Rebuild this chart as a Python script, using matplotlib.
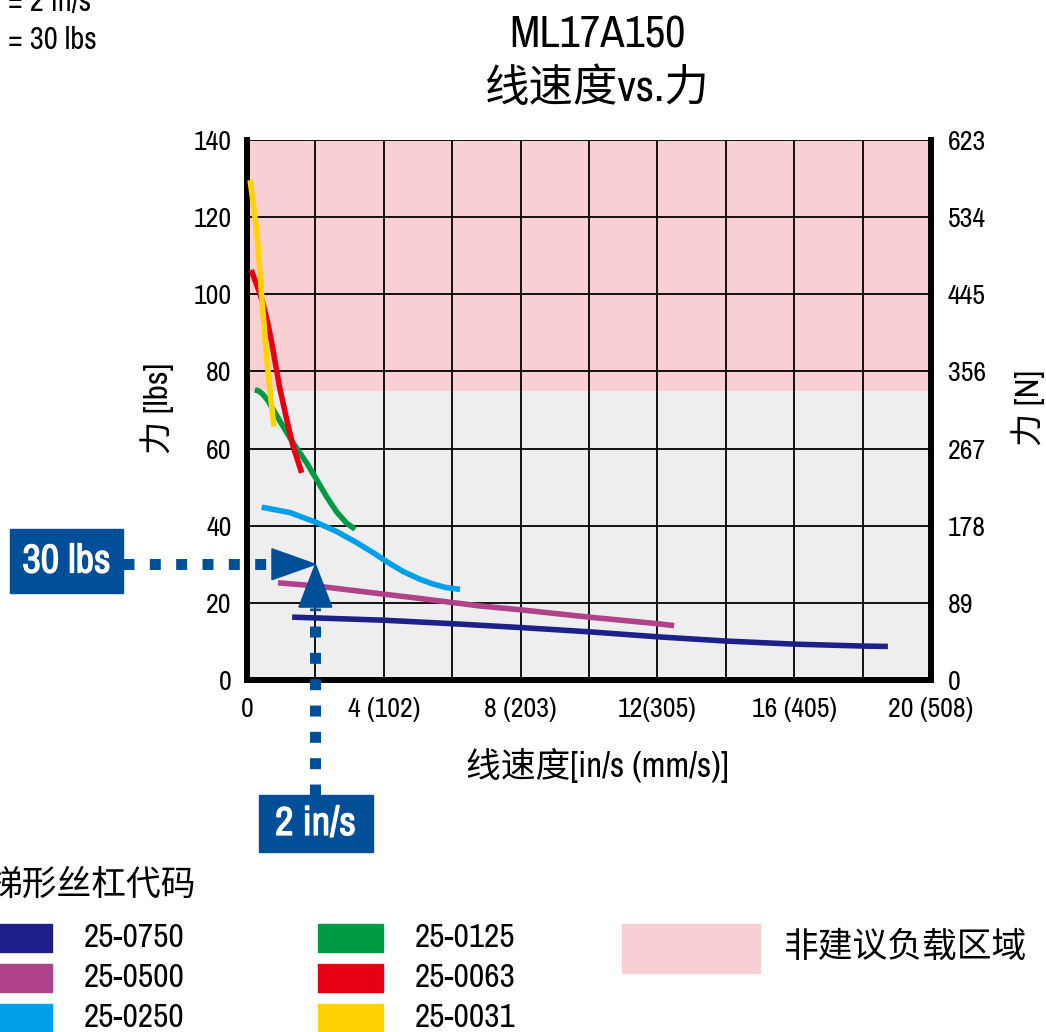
import matplotlib
matplotlib.use('Agg')
import matplotlib.pyplot as plt
import matplotlib.patheffects as pe
from matplotlib import font_manager
from matplotlib.patches import Rectangle, Polygon

# Speed [in/s] and force [lbs], one pair per lead screw
speed_0750 = [1.32, 2, 4, 6, 8, 10, 12, 14, 16, 18, 18.74]
force_0750 = [16.3, 16.1, 15.5, 14.6, 13.6, 12.5, 11.2, 10.1, 9.3, 8.8, 8.7]
speed_0500 = [0.91, 2, 3.68, 5, 6.81, 8, 10, 12, 12.49]
force_0500 = [25.2, 24.4, 22.6, 21.2, 19.2, 18.2, 16.3, 14.6, 14.1]
speed_0250 = [0.43, 1.26, 2.04, 2.62, 3.21, 3.69, 4.08, 4.57, 5.06, 5.4, 5.8, 6.23]
force_0250 = [44.8, 43.4, 40.8, 38.5, 35.6, 33.0, 30.7, 28.1, 26.1, 25.0, 24.0, 23.5]
speed_0125 = [0.23, 0.33, 0.45, 0.6, 0.77, 1.06, 1.35, 1.75, 2.04, 2.33, 2.62, 2.92, 3.16]
force_0125 = [75.2, 75.0, 74.2, 72.6, 70.0, 65.7, 61.4, 56.2, 51.9, 47.5, 43.6, 40.6, 39.1]
speed_0063 = [0.12, 0.23, 0.35, 0.47, 0.61, 0.72, 0.84, 0.96, 1.16, 1.35, 1.6]
force_0063 = [106.3, 103.7, 100.9, 97.5, 92.4, 87.6, 81.6, 75.6, 67.6, 60.5, 53.7]
speed_0031 = [0.09, 0.18, 0.28, 0.36, 0.43, 0.51, 0.59, 0.69, 0.79]
force_0031 = [129.6, 123.6, 116.7, 108.0, 99.4, 90.7, 82.1, 73.4, 65.7]

codes = ['25-0750', '25-0500', '25-0250', '25-0125', '25-0063', '25-0031']
speeds = [speed_0750, speed_0500, speed_0250, speed_0125, speed_0063, speed_0031]
forces = [force_0750, force_0500, force_0250, force_0125, force_0063, force_0031]
colors = ['#1d2088', '#b0418b', '#00a0e9', '#009944', '#e60012', '#ffd200']

xtick_values = [0, 4, 8, 12, 16, 20]
xtick_labels = ['0', '4 (102)', '8 (203)', '12(305)', '16 (405)', '20 (508)']
ytick_values = [0, 20, 40, 60, 80, 100, 120, 140]
ytick_newton = ['0', '89', '178', '267', '356', '445', '534', '623']

not_recommended_from = 75
example_speed = 2
example_force = 30

blue = '#004f98'
pink = '#f8cfd2'
grey = '#eeeeee'

# Pick a narrow latin face if one is installed, CJK falls back to Noto
latin = 'Roboto'
stretch = 'normal'
fonts = font_manager.fontManager.ttflist
narrow = [f for f in fonts if 'Narrow' in f.name or 'Condensed' in f.name]
if narrow:
   latin = narrow[0].name
else:
   for f in fonts:
      if f.name == 'DejaVu Sans' and f.stretch in ('condensed', 'semi-condensed'):
         latin = 'DejaVu Sans'
         stretch = 'condensed'
         break
heavy = ('600', '700', '800', '900', 'bold', 'semibold', 'demibold', 'heavy', 'black')
has_bold = any(f.name == latin and str(f.weight) in heavy for f in fonts)

plt.rcParams['font.family'] = [latin, 'Noto Sans CJK SC', 'DejaVu Sans']
plt.rcParams['font.stretch'] = stretch

W, H = 1046, 1032
fig = plt.figure(figsize=(W / 100, H / 100), dpi=100)
ax = fig.add_axes([247 / W, 1 - 680 / H, 684 / W, 540 / H])

ax.set_xlim(0, 20)
ax.set_ylim(0, 140)
ax.set_facecolor(grey)
ax.axhspan(not_recommended_from, 140, color=pink, lw=0, zorder=0)

# grid every 2 in/s and 20 lbs
for gx in range(2, 20, 2):
   ax.axvline(gx, color='k', lw=1.3, zorder=1)
for gy in ytick_values[1:]:
   ax.axhline(gy, color='k', lw=1.3, zorder=1)

for spine in ['left', 'bottom', 'right']:
   ax.spines[spine].set_linewidth(4.3)
ax.spines['top'].set_visible(False)

ax.set_xticks(xtick_values)
ax.set_xticklabels(xtick_labels)
ax.set_yticks(ytick_values)
ax.tick_params(length=0, labelsize=20, pad=11)
ax.tick_params(axis='x', pad=12)

ax2 = ax.twinx()
ax2.set_ylim(0, 140)
ax2.set_yticks(ytick_values)
ax2.set_yticklabels(ytick_newton)
ax2.tick_params(length=0, labelsize=20, pad=12)
for spine in ax2.spines.values():
   spine.set_visible(False)

for i in range(len(codes)):
   ax.plot(speeds[i], forces[i], color=colors[i], lw=4, solid_capstyle='butt',
           solid_joinstyle='round', zorder=3)

# example lookup: 2 in/s -> 30 lbs
ax.plot([-3.63, 0.62], [example_force, example_force], color=blue, lw=7.9,
        linestyle=(0, (1.0, 1.4)), dash_capstyle='butt', clip_on=False, zorder=4)
ax.plot([example_speed, example_speed], [-29.8, 18.6], color=blue, lw=7.9,
        linestyle=(0, (1.0, 1.4)), dash_capstyle='butt', clip_on=False, zorder=4)
ax.add_patch(Polygon([[0.73, example_force + 4.0], [0.73, example_force - 4.0],
                      [example_speed, example_force]],
                     closed=True, color=blue, clip_on=False, zorder=5))
ax.add_patch(Polygon([[example_speed - 0.48, 18.9], [example_speed + 0.48, 18.9],
                      [example_speed, example_force]],
                     closed=True, color=blue, clip_on=False, zorder=5))

if has_bold:
   bold_fx = []
else:
   bold_fx = [pe.withStroke(linewidth=0.9, foreground='white')]
ax.add_patch(Rectangle((-6.93, 22.6), 3.30, 16.5, color=blue, clip_on=False, zorder=5))
ax.text(-5.28, 30.85, '30 lbs', color='white', fontsize=29, fontweight='bold',
        ha='center', va='center', zorder=6, clip_on=False, path_effects=bold_fx)
ax.add_patch(Rectangle((0.35, -44.6), 3.33, 14.8, color=blue, clip_on=False, zorder=5))
ax.text(2.0, -37.2, '2 in/s', color='white', fontsize=29, fontweight='bold',
        ha='center', va='center', zorder=6, clip_on=False, path_effects=bold_fx)

# titles and axis labels
fig.text(597 / W, 1 - 35 / H, 'ML17A150', fontsize=32, ha='center', va='center')
fig.text(597 / W, 1 - 88 / H, '线速度vs.力', fontsize=32, ha='center', va='center')
fig.text(597 / W, 1 - 765 / H, '线速度[in/s (mm/s)]', fontsize=25, ha='center', va='center')
fig.text(157 / W, 1 - 408 / H, '力 [lbs]', fontsize=24, ha='center', va='center', rotation=90)
fig.text(1028 / W, 1 - 408 / H, '力 [N]', fontsize=24, ha='center', va='center', rotation=90)

fig.text(8 / W, 1 - 2 / H, '= 2 in/s', fontsize=22, ha='left', va='center')
fig.text(8 / W, 1 - 40 / H, '= 30 lbs', fontsize=22, ha='left', va='center')

# legend
fig.text(-12 / W, 1 - 885 / H, '梯形丝杠代码', fontsize=25, ha='left', va='center')
col_x = [-13, 318]
for i in range(len(codes)):
   col = i // 3
   row = i % 3
   top = 924 + row * 40
   fig.add_artist(Rectangle((col_x[col] / W, 1 - (top + 28) / H), 65 / W, 28 / H,
                            color=colors[i], transform=fig.transFigure))
   fig.text((col_x[col] + 97) / W, 1 - (top + 14) / H, codes[i], fontsize=24,
            ha='left', va='center')
fig.add_artist(Rectangle((622 / W, 1 - 973 / H), 138 / W, 49 / H, color=pink,
                         transform=fig.transFigure))
fig.text(783 / W, 1 - 947 / H, '非建议负载区域', fontsize=25, ha='left', va='center')

fig.savefig('out.png', dpi=100)
